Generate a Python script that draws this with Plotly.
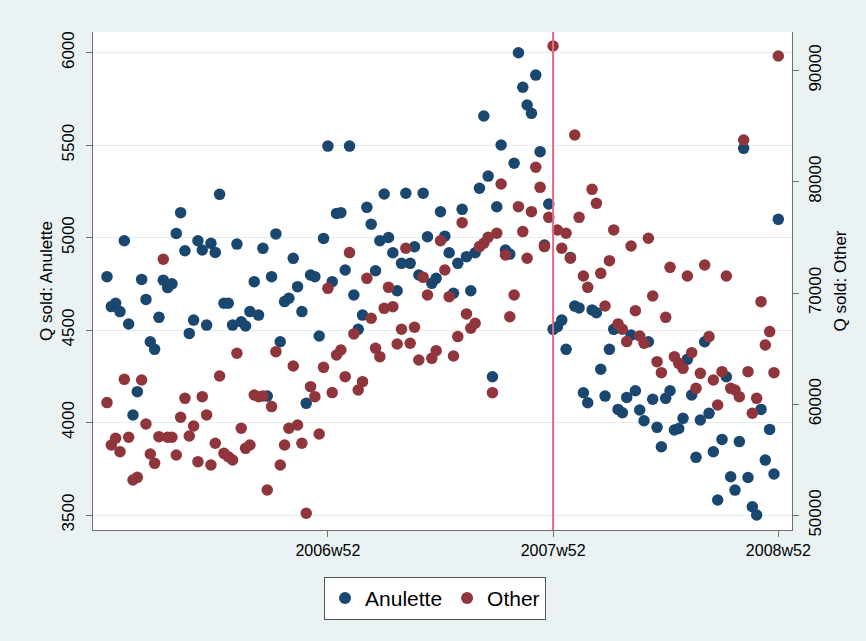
import plotly.graph_objects as go

# Weekly calendar, 2006w1 .. 2008w52 (52 weeks per year)
weeks = [f"{yr}w{wk}" for yr in (2006, 2007, 2008) for wk in range(1, 53)]

# Quantity sold per week: Anulette (left axis)
anulette = [
    4789, 4627, 4645, 4600, 4983, 4533, 4041, 4167, 4774, 4666,
    4437, 4396, 4569, 4770, 4730, 4750, 5023, 5135, 4929, 4482,
    4554, 4983, 4933, 4527, 4969, 4920, 5234, 4645, 4645, 4527,
    4965, 4545, 4522, 4600, 4762, 4581, 4942, 4143, 4789, 5020,
    4437, 4654, 4672, 4888, 4735, 4600, 4104, 4798, 4789, 4468,
    4996, 5495, 4762, 5131, 5135, 4825, 5495, 4690, 4504, 4581,
    5164, 5073, 4821, 4983, 5236, 5001, 4918, 4713, 4861, 5240,
    4861, 4951, 4798, 5240, 5005, 4753, 4780, 5140, 5008, 4918,
    4699, 4861, 5153, 4897, 4713, 4918, 5267, 5658, 5333, 4248,
    5167, 5501, 4933, 4911, 5402, 6000, 5813, 5717, 5672, 5879,
    5465, 4960, 5182, 4504, 4518, 4554, 4396, 4893, 4630, 4620,
    4161, 4107, 4609, 4594, 4288, 4143, 4396, 4504, 4071, 4053,
    4136, 4473, 4172, 4068, 4010, 4437, 4126, 3974, 3869, 4131,
    4172, 3960, 3968, 4023, 4342, 4149, 3812, 4014, 4437, 4050,
    3842, 3581, 3909, 4248, 3707, 3635, 3897, 5483, 3703, 3545,
    3500, 4071, 3797, 3963, 3722, 5099,
]

# Quantity sold per week: all other products (right axis)
other = [
    60150, 56340, 56940, 55740, 62240, 57030, 53190, 53430, 62180, 58230,
    55530, 54690, 57090, 73030, 57030, 57030, 55440, 58830, 60530, 57150,
    58050, 54840, 60680, 59040, 54540, 56490, 62540, 55590, 55290, 54990,
    64580, 57840, 56040, 56340, 60830, 60680, 60740, 52290, 59790, 64730,
    54540, 56340, 57840, 63440, 58140, 56490, 50200, 61580, 60680, 57330,
    63320, 70420, 61050, 64430, 64880, 62480, 73630, 66320, 61280, 62030,
    71320, 67730, 65030, 64280, 68620, 70510, 68770, 65420, 66740, 74020,
    65480, 66920, 63980, 71410, 69820, 64130, 64820, 74700, 72070, 69670,
    64340, 66080, 76320, 68120, 66830, 67280, 74170, 74470, 75010, 61040,
    75370, 79800, 73420, 67870, 69820, 77760, 75520, 73120, 77310, 81300,
    79500, 74170, 76800, 92200, 75660, 74020, 75370, 73120, 84200, 76800,
    71530, 70510, 79320, 78060, 71770, 68830, 72910, 75670, 67220, 66740,
    65630, 74230, 68410, 66140, 65480, 74920, 69730, 63830, 62840, 67810,
    72310, 64280, 63680, 63230, 71530, 64640, 61430, 62780, 72520, 66080,
    62180, 59930, 62930, 71530, 61430, 61280, 60680, 83750, 62930, 59190,
    60530, 69220, 65330, 66530, 62840, 91300,
]

x_ticks = ["2006w52", "2007w52", "2008w52"]
left_ticks = [3500, 4000, 4500, 5000, 5500, 6000]
right_ticks = [50000, 60000, 70000, 80000, 90000]
break_week = "2007w52"

BLUE = "#1a476f"
RED = "#90353b"
AXIS = "#707070"
FONT = "Liberation Sans, Arial, Helvetica, sans-serif"

fig = go.Figure()
fig.add_trace(go.Scatter(
    x=weeks, y=anulette, mode="markers", name="Anulette",
    marker=dict(color=BLUE, size=11.5, line=dict(width=0)), yaxis="y",
))
fig.add_trace(go.Scatter(
    x=weeks, y=other, mode="markers", name="Other",
    marker=dict(color=RED, size=11.5, line=dict(width=0)), yaxis="y2",
))

fig.add_shape(
    type="line", xref="x", yref="paper",
    x0=break_week, x1=break_week, y0=0, y1=1,
    line=dict(color="#e26c87", width=2),
)

fig.update_layout(
    width=866, height=641, autosize=False,
    margin=dict(l=93, r=74, t=32, b=111),
    paper_bgcolor="#eaf2f3", plot_bgcolor="white",
    font=dict(family=FONT, color="black", size=16),
    showlegend=True,
    legend=dict(
        orientation="h", x=0.3305, xanchor="left", y=-0.094, yanchor="top",
        bgcolor="white", bordercolor="#555555", borderwidth=1,
        font=dict(size=21), itemsizing="constant",
    ),
    xaxis=dict(
        type="category", range=[-3.23, 158.16],
        tickmode="array", tickvals=x_ticks, ticktext=x_ticks,
        ticks="outside", ticklen=6, tickcolor=AXIS,
        showline=True, linecolor=AXIS, linewidth=1,
        showgrid=False, zeroline=False, tickfont=dict(size=16),
    ),
    yaxis=dict(
        range=[3419, 6112], tickmode="array", tickvals=left_ticks,
        ticktext=[str(v) for v in left_ticks],
        tickangle=-90, ticks="outside", ticklen=6, tickcolor=AXIS,
        ticklabelstandoff=5,
        showline=True, linecolor=AXIS, linewidth=1,
        showgrid=True, gridcolor="#e6ecee", gridwidth=1, zeroline=False,
        tickfont=dict(size=17),
        title=dict(text="Q sold: Anulette", font=dict(size=17), standoff=2),
    ),
    yaxis2=dict(
        overlaying="y", side="right",
        range=[48697, 93461], tickmode="array", tickvals=right_ticks,
        ticktext=[str(v) for v in right_ticks],
        tickangle=-90, ticks="outside", ticklen=6, tickcolor=AXIS,
        ticklabelstandoff=2,
        showline=True, linecolor=AXIS, linewidth=1,
        showgrid=False, zeroline=False, tickfont=dict(size=17),
        title=dict(text="Q sold: Other", font=dict(size=17), standoff=9),
    ),
)

fig.write_html("out.html")
